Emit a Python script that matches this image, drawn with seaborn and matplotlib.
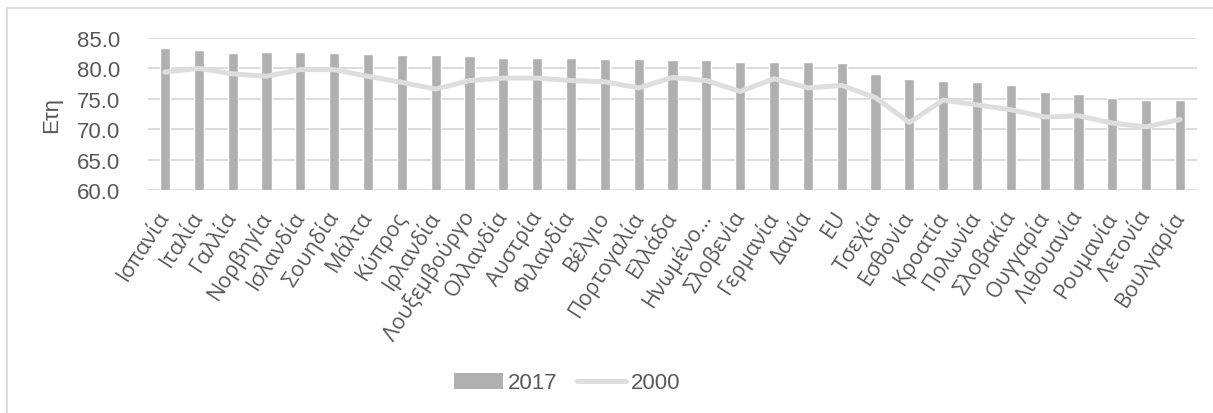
import matplotlib
matplotlib.use("Agg")
import matplotlib.pyplot as plt
import seaborn as sns
import numpy as np
import pandas as pd
from matplotlib.patches import Patch, Rectangle
from matplotlib.lines import Line2D

countries = ["Ισπανία", "Ιταλία", "Γαλλία", "Νορβηγία", "Ισλανδία", "Σουηδία", "Μάλτα",
             "Κύπρος", "Ιρλανδία", "Λουξεμβούργο", "Ολλανδία", "Αυστρία", "Φιλανδία",
             "Βέλγιο", "Πορτογαλία", "Ελλάδα", "Ηνωμένο…", "Σλοβενία", "Γερμανία", "Δανία",
             "EU", "Τσεχία", "Εσθονία", "Κροατία", "Πολωνία", "Σλοβακία", "Ουγγαρία",
             "Λιθουανία", "Ρουμανία", "Λετονία", "Βουλγαρία"]
v2017 = [83.4, 83.0, 82.6, 82.7, 82.7, 82.5, 82.4, 82.2, 82.2, 82.0, 81.7, 81.7, 81.7,
         81.5, 81.5, 81.4, 81.3, 81.1, 81.1, 81.1, 80.9, 79.0, 78.3, 77.9, 77.8, 77.3,
         76.1, 75.8, 75.2, 74.8, 74.8]
v2000 = [79.4, 80.0, 79.1, 78.7, 79.8, 79.8, 78.7, 77.7, 76.6, 78.0, 78.4, 78.4, 78.0,
         77.8, 76.8, 78.5, 78.0, 76.2, 78.3, 76.8, 77.2, 75.2, 71.1, 74.8, 74.0, 73.2,
         72.0, 72.2, 71.0, 70.4, 71.6]
yticks = [60.0, 65.0, 70.0, 75.0, 80.0, 85.0]

df = pd.DataFrame({"country": countries, "v2017": v2017, "v2000": v2000,
                   "pos": np.arange(len(countries))})

sns.set_style("white")
plt.rcParams["font.family"] = ["Liberation Sans", "DejaVu Sans"]

W, H = 1213, 414
fig = plt.figure(figsize=(W / 100, H / 100), dpi=100)
ax = fig.add_axes([148 / W, 1 - 191 / H, (1197 - 148) / W, (191 - 39) / H])

bar_color = "#b0b0b0"
line_color = "#dedede"
text_color = "#595959"
grid_color = "#d9d9d9"

sns.barplot(data=df, x="country", y="v2017", color=bar_color, width=0.3,
            saturation=1, ax=ax, zorder=2)
sns.lineplot(data=df, x="pos", y="v2000", color=line_color, linewidth=3.6,
             sort=False, ax=ax, zorder=3)
ax.lines[-1].set_solid_joinstyle("round")
ax.lines[-1].set_solid_capstyle("round")

ax.set_xlim(-0.5, len(countries) - 0.5)
ax.set_ylim(60, 85)
ax.set_yticks(yticks)
ax.set_yticklabels([f"{t:.1f}" for t in yticks], fontsize=16, color=text_color)
ax.set_xticks(df["pos"])
ax.set_xticklabels(countries, rotation=57, ha="right", va="center",
                   rotation_mode="anchor", fontsize=15.5, color=text_color,
                   family=["Open Sans", "DejaVu Sans"])
ax.tick_params(axis="x", pad=16, length=0)
ax.tick_params(axis="y", pad=20, length=0)
ax.yaxis.grid(True, color=grid_color, linewidth=1.3, zorder=0)
ax.set_axisbelow(True)
for s in ax.spines.values():
    s.set_visible(False)
ax.set_xlabel("")
ax.set_ylabel("Ετη", fontsize=16, color=text_color)
ax.yaxis.set_label_coords(-86 / (1197 - 148), 0.5)

handles = [Patch(facecolor=bar_color, edgecolor="none", label="2017"),
           Line2D([0], [0], color=line_color, linewidth=3.6, solid_capstyle="round",
                  label="2000")]
fig.legend(handles=handles, loc="center", bbox_to_anchor=(567 / W, 1 - 384 / H),
           ncol=2, frameon=False, fontsize=16, handlelength=2.2, handletextpad=0.2,
           columnspacing=0.9, labelcolor=text_color)

fig.patches.append(Rectangle((7 / W, -0.1), 1.2, 1 - 9 / H + 0.1, transform=fig.transFigure,
                             fill=False, edgecolor=grid_color, linewidth=1.2))

fig.savefig("out.png", dpi=100)
